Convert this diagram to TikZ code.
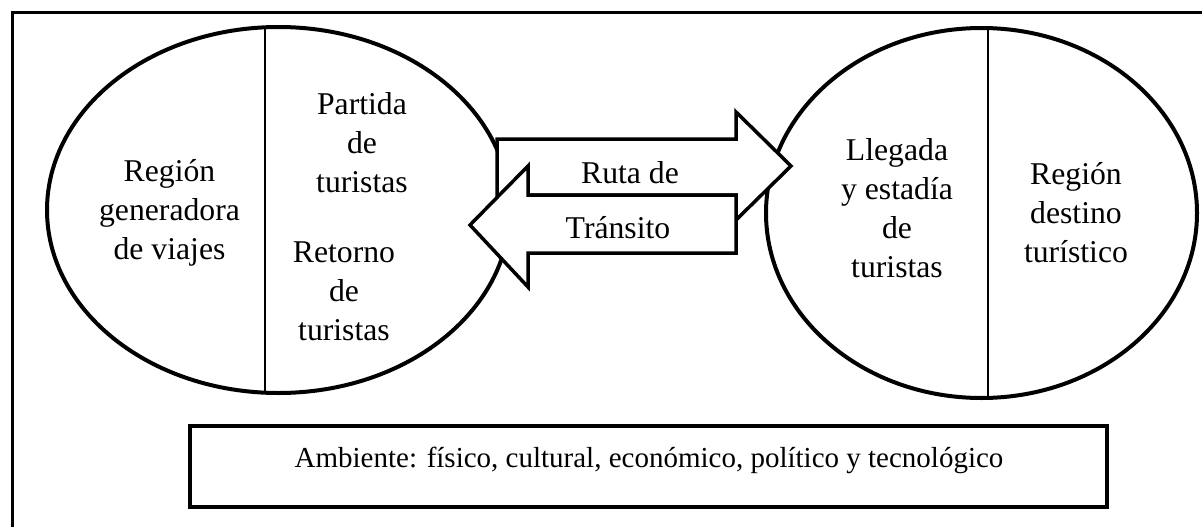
\documentclass[tikz,border=0pt]{standalone}
\usepackage{fontspec}
\setmainfont{Liberation Serif}
\begin{document}
\begin{tikzpicture}[x=1pt,y=-1pt,
    lbl/.style={align=center,anchor=base,inner sep=0pt,
      font=\fontsize{31.7}{39}\selectfont},
    region/.style={line width=4pt},
    divider/.style={line width=1.2pt},
    route/.style={line width=3.5pt,fill=white,line join=miter}]
  \useasboundingbox (0,0) rectangle (1202,527);
  % outer frame, cut by the page on the right and at the bottom
  \draw[line width=3pt] (12,13) rectangle (1230,560);
  % the two regions
  \draw[region] (278.5,210) ellipse [x radius=231.5pt, y radius=183pt];
  \draw[region] (981.5,213) ellipse [x radius=215.5pt, y radius=185pt];
  \draw[divider] (265,27.5) -- (265,392.5);
  \draw[divider] (988,28.5) -- (988,397.5);
  % transit route
  \draw[route] (497,139) -- (736,139) -- (736,112) -- (791,166)
    -- (736,220) -- (736,195) -- (497,195) -- cycle;
  \draw[route] (736,195) -- (528,195) -- (528,166) -- (470,225)
    -- (528,287) -- (528,253) -- (736,253) -- cycle;
  \node[lbl] (ruta) at (630,183) {Ruta de};
  \node[lbl] (transito) at (618,238) {Tránsito};
  % texts (placed at the baseline of their last line)
  \node[lbl] (generadora) at (169.5,259) {Región\\generadora\\de viajes};
  \node[lbl] (partida) at (362,192) {Partida\\de\\turistas};
  \node[lbl] (retorno) at (344,340) {Retorno\\de\\turistas};
  \node[lbl] (llegada) at (897,277) {Llegada\\y estadía\\de\\turistas};
  \node[lbl] (destino) at (1076,262) {Región\\destino\\turístico};
  % environment
  \draw[line width=4.5pt] (190,426) rectangle (1107,507);
  \node[lbl,font=\fontsize{29}{35}\selectfont] (ambiente) at (649,467)
    {Ambiente: físico, cultural, económico, político y tecnológico};
\end{tikzpicture}
\end{document}
